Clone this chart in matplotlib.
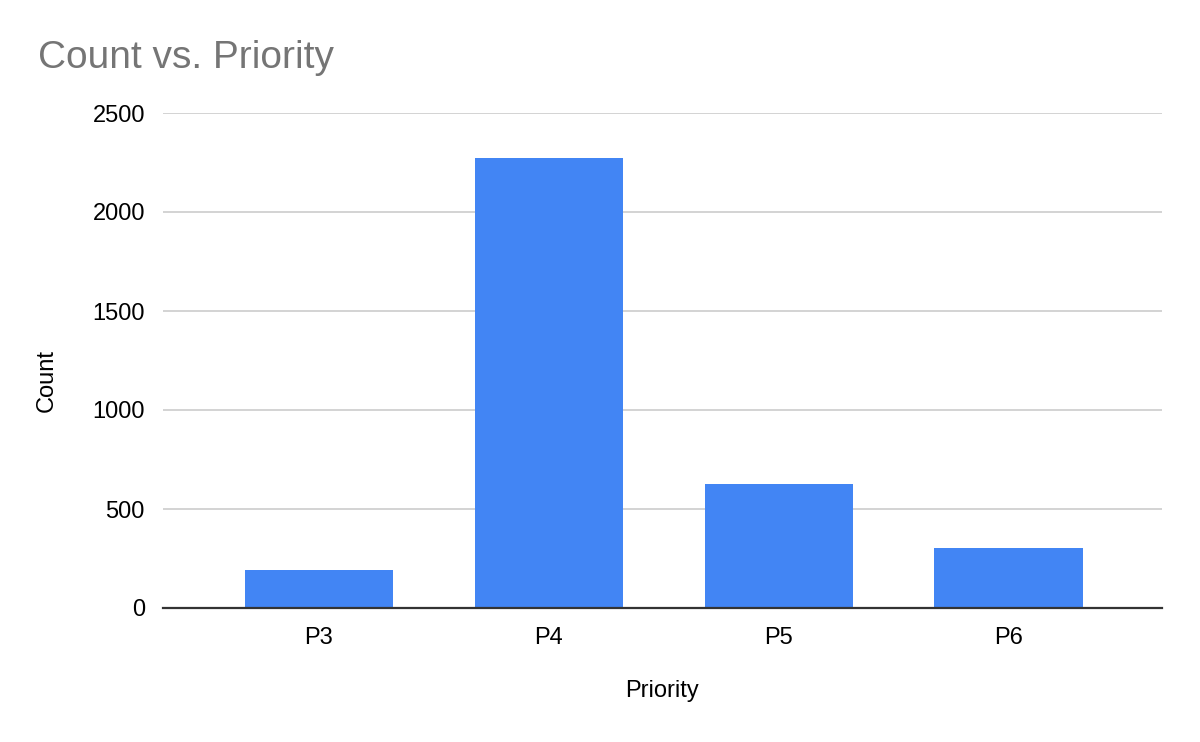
import numpy as np
import matplotlib
matplotlib.use("Agg")
import matplotlib.pyplot as plt

# Datos
prioridades = ["P3", "P4", "P5", "P6"]
conteos = [193, 2271, 626, 303]
yticks = [0, 500, 1000, 1500, 2000, 2500]

plt.rcParams['font.family'] = ['Liberation Sans', 'DejaVu Sans']

fig = plt.figure(figsize=(12, 7.42), dpi=100)
ax = fig.add_axes([163/1200, 1 - 608/742, (1162 - 163)/1200, (608 - 113)/742])

x = np.arange(len(prioridades))
ax.bar(x, conteos, width=0.645, color="#4285F4", zorder=3)

ax.set_xlim(-0.678, 3.667)
ax.set_ylim(0, 2500)
ax.set_yticks(yticks)
ax.set_xticks(x)
ax.set_xticklabels(prioridades)

# Rejilla y ejes
ax.grid(axis="y", color="#cccccc", linewidth=1.2, zorder=0)
for lado in ["top", "right", "left"]:
    ax.spines[lado].set_visible(False)
ax.spines["bottom"].set_color("#333333")
ax.spines["bottom"].set_linewidth(1.6)
ax.spines["bottom"].set_zorder(4)
ax.tick_params(axis="both", length=0, labelsize=17, colors="#000000")
ax.tick_params(axis="y", pad=13)
ax.tick_params(axis="x", pad=14)

# Titulo y etiquetas
fig.text(38/1200, 1 - 68/742, "Count vs. Priority", fontsize=28, color="#757575",
         ha="left", va="baseline")
fig.text(47/1200, 1 - 380/742, "Count", fontsize=17, rotation=90,
         ha="center", va="center")
fig.text(662/1200, 1 - 691/742, "Priority", fontsize=17, ha="center", va="center")

fig.savefig("out.png", dpi=100)
